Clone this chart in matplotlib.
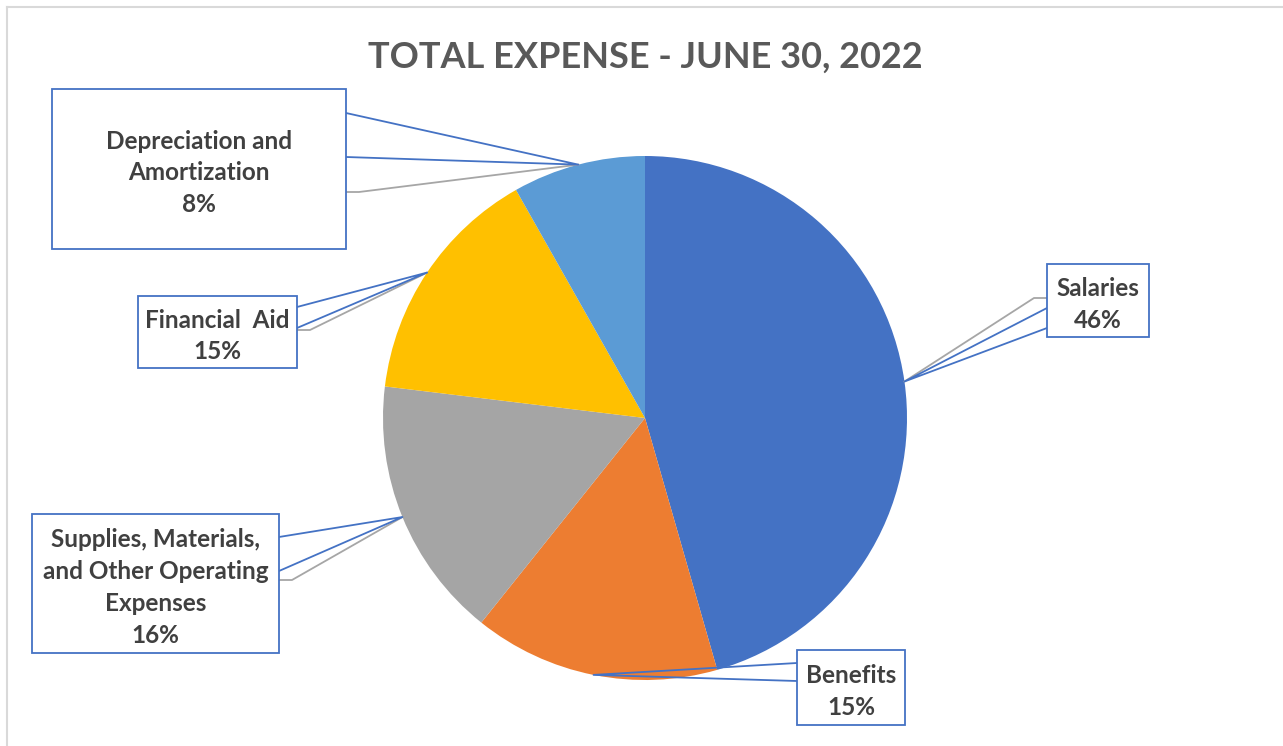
import numpy as np
import matplotlib
matplotlib.use('Agg')
import matplotlib.pyplot as plt
from matplotlib.patches import Rectangle

plt.rcParams['font.family'] = ['Lato', 'DejaVu Sans']

# データ
labels = ['Salaries', 'Benefits', 'Supplies, Materials,\nand Other Operating\nExpenses',
          'Financial  Aid', 'Depreciation and\nAmortization']
values = [45.6, 15.2, 16.2, 14.9, 8.2]
colors = ['#4472C4', '#ED7D31', '#A5A5A5', '#FFC000', '#5B9BD5']
title = 'TOTAL EXPENSE - JUNE 30, 2022'

# ラベルボックスの配置 (ピクセル座標: x0, y0, x1, y1)
boxes = [
    (1047, 264, 1149, 337),
    (797, 650, 905, 725),
    (32, 514, 279, 653),
    (138, 296, 297, 368),
    (52, 89, 346, 249),
]
# 吹き出しの根元 (ボックス側の y 座標 2 点), 灰色線の y
callout_y = [
    (308, 328, 298),
    (663, 681, None),
    (537, 571, 580),
    (307, 328, 330),
    (113, 157, 192),
]

W, H = 1283, 746
cx, cy, r = 645, 418, 262

fig = plt.figure(figsize=(W / 100, H / 100), dpi=100)
ax = fig.add_axes([0, 0, 1, 1])

# 円グラフ (y軸反転なので counterclock=True で時計回り)
ax.pie(values, colors=colors, startangle=-90, counterclock=True,
       center=(cx, cy), radius=r, wedgeprops=dict(linewidth=0))

ax.set_xlim(0, W)
ax.set_ylim(H, 0)
ax.set_aspect('auto')
ax.axis('off')

# 外枠
ax.plot([7, 7], [H, 7], color='#D9D9D9', lw=1.5)
ax.plot([7, W], [7, 7], color='#D9D9D9', lw=1.5)

# タイトル
ax.text(645, 57, title, ha='center', va='center', fontsize=26,
        fontweight='bold', color='#595959')

blue = '#4472C4'
total = sum(values)
cum = 0
for lab, v, box, cy_pts in zip(labels, values, boxes, callout_y):
    theta = np.deg2rad(-90 + 360 * (cum + v / 2) / total)
    cum += v
    ax_x = cx + r * np.cos(theta)
    ax_y = cy + r * np.sin(theta)
    x0, y0, x1, y1 = box
    # 吹き出しの向き
    side = x1 if ax_x > x1 else x0
    y_a, y_b, y_g = cy_pts
    # 灰色のリーダー線
    if y_g is not None:
        step = 13 if side == x1 else -13
        ax.plot([side, side + step, ax_x], [y_g, y_g, ax_y], color='#A6A6A6', lw=1.3, zorder=3)
    # 青い吹き出し
    ax.plot([side, ax_x, side], [y_a, ax_y, y_b], color=blue, lw=1.3, zorder=4)
    ax.add_patch(Rectangle((x0, y0), x1 - x0, y1 - y0, facecolor='white',
                           edgecolor=blue, lw=1.3, zorder=5))
    pct = 100 * v / total
    ax.text((x0 + x1) / 2, (y0 + y1) / 2 + 4, f'{lab}\n{pct:.0f}%', ha='center', va='center',
            fontsize=17.5, fontweight='bold', color='#404040', linespacing=1.46, zorder=6)

fig.savefig('out.png', dpi=100)
plt.close(fig)
